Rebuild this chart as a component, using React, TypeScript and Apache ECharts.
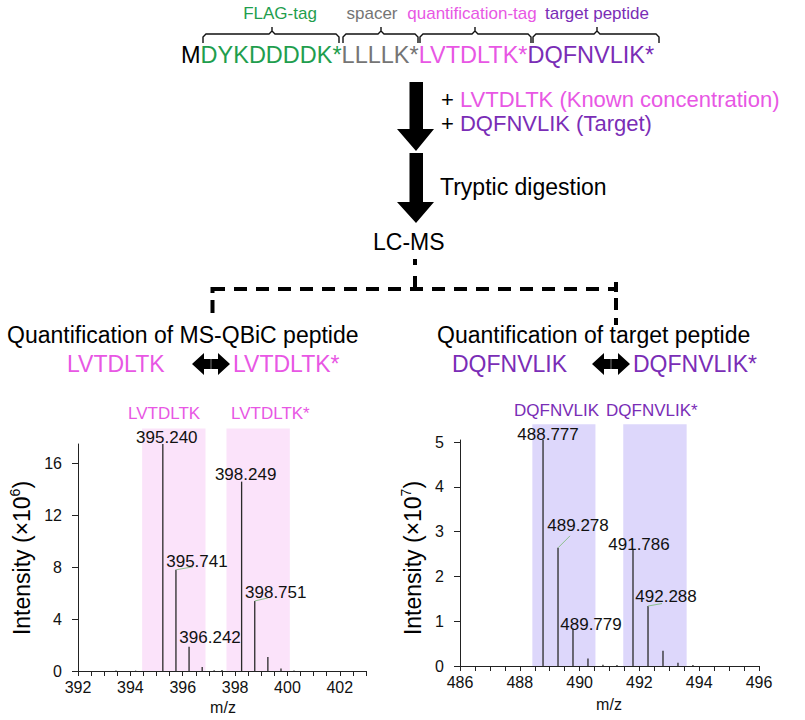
import React, { useEffect, useRef } from "react";
import * as echarts from "echarts";

const FONT = '"Liberation Sans", Arial, Helvetica, sans-serif';

// Colours of the peptide parts
const GREEN = "#1f9e4e";
const GRAY = "#757575";
const PINK = "#e857e4";
const PURPLE = "#7a2db6";

// ---- Left spectrum (MS-QBiC peptide), intensity x10^6 ----
const leftMz = [393.45, 394.2, 395.24, 395.741, 396.242, 396.743, 397.2, 397.5, 398.249, 398.751, 399.252, 399.753, 400.25];
const leftIntensity = [0.03, 0.03, 17.5, 7.8, 1.87, 0.3, 0.05, 0.07, 14.6, 5.4, 1.08, 0.2, 0.03];
const leftLabelled = [395.24, 395.741, 396.242, 398.249, 398.751];
const leftLabelText = ["395.240", "395.741", "396.242", "398.249", "398.751"];
const leftBandStart = [394.45, 397.67];
const leftBandEnd = [396.87, 400.09];
const leftBandTop = [18.7, 18.7];
const leftYTicks = [0, 4, 8, 12, 16];

// ---- Right spectrum (target peptide), intensity x10^7 ----
const rightMz = [488.777, 489.278, 489.779, 490.28, 490.781, 491.25, 491.786, 492.288, 492.789, 493.29, 493.79];
const rightIntensity = [5.05, 2.64, 0.84, 0.17, 0.03, 0.02, 2.59, 1.34, 0.34, 0.07, 0.02];
const rightLabelled = [488.777, 489.278, 489.779, 491.786, 492.288];
const rightLabelText = ["488.777", "489.278", "489.779", "491.786", "492.288"];
const rightBandStart = [488.42, 491.46];
const rightBandEnd = [490.53, 493.58];
const rightBandTop = [5.4, 5.4];
const rightYTicks = [0, 1, 2, 3, 4, 5];

// label placement (pixel offsets from peak top) and leader-line ends
const leftLabelOffsets = [
  [4, -7, 0, 0],
  [21, -8, 17, -3],
  [21, -9, 0, 0],
  [4, -7, 0, 0],
  [21, -8, 13, -3],
];
const rightLabelOffsets = [
  [5, -6, 0, 0],
  [20, -22, 12, -12],
  [18, -4, 0, 0],
  [6, -6, 0, 0],
  [18, -10, 14, -2.5],
];

function txt(x: number, y: number, s: string, size: number, color: string, align = "left") {
  return {
    type: "text",
    x,
    y,
    style: {
      text: s,
      fontSize: size,
      fontFamily: FONT,
      fill: color,
      align,
      verticalAlign: "middle",
      textAlign: align,
      textVerticalAlign: "middle",
    },
  };
}

function tok(color: string, size: number, more: any = {}) {
  return { fill: color, color, fontSize: size, fontFamily: FONT, ...more };
}

function richTxt(x: number, y: number, s: string, rich: any, align = "left", rotation = 0) {
  return {
    type: "text",
    x,
    y,
    rotation,
    style: {
      text: s,
      rich,
      fontFamily: FONT,
      align,
      verticalAlign: "middle",
      textAlign: align,
      textVerticalAlign: "middle",
    },
  };
}

function brace(x1: number, mid: number, x2: number) {
  return {
    type: "polyline",
    shape: {
      points: [
        [x1, 43],
        [x1, 37],
        [x1 + 3, 34],
        [mid - 3, 34],
        [mid, 31],
        [mid, 27],
        [mid, 31],
        [mid + 3, 34],
        [x2 - 3, 34],
        [x2, 37],
        [x2, 43],
      ],
    },
    style: { stroke: "#111", lineWidth: 1.4, fill: null },
  };
}

function downArrow(top: number, headY: number, tip: number) {
  return {
    type: "polygon",
    shape: {
      points: [
        [409.5, top],
        [423, top],
        [423, headY],
        [434, headY],
        [416, tip],
        [397, headY],
        [409.5, headY],
      ],
    },
    style: { fill: "#000" },
  };
}

function doubleArrow(x0: number, x1: number, cy: number) {
  const w = 12;
  return [
    {
      type: "polygon",
      shape: {
        points: [
          [x0, cy],
          [x0 + w, cy - 11],
          [x0 + w, cy - 5],
          [x1 - w, cy - 5],
          [x1 - w, cy - 11],
          [x1, cy],
          [x1 - w, cy + 11],
          [x1 - w, cy + 5],
          [x0 + w, cy + 5],
          [x0 + w, cy + 11],
        ],
      },
      style: { fill: "#000" },
    },
    {
      type: "line",
      shape: { x1: (x0 + x1) / 2, y1: cy - 5, x2: (x0 + x1) / 2, y2: cy + 5 },
      style: { stroke: "#9a9a9a", lineWidth: 0.8 },
    },
  ];
}

function superRich(color: string) {
  return {
    a: tok(color, 23, { lineHeight: 28 }),
    s: tok(color, 14, { lineHeight: 14, verticalAlign: "top" }),
  };
}

function buildGraphic() {
  const g: any[] = [];
  // headers over the construct
  g.push(txt(280, 13, "FLAG-tag", 17, GREEN, "center"));
  g.push(txt(372, 13, "spacer", 17, GRAY, "center"));
  g.push(txt(472, 13, "quantification-tag", 17, PINK, "center"));
  g.push(txt(597, 13, "target peptide", 17, PURPLE, "center"));
  g.push(brace(203, 272, 339));
  g.push(brace(343, 381, 418));
  g.push(brace(420, 475, 531));
  g.push(brace(533, 597, 659));
  g.push(
    richTxt(181, 55, "{k|M}{g|DYKDDDDK*}{s|LLLLK*}{p|LVTDLTK*}{v|DQFNVLIK*}", {
      k: tok("#000", 23.5),
      g: tok(GREEN, 23.5),
      s: tok(GRAY, 23.5),
      p: tok(PINK, 23.5),
      v: tok(PURPLE, 23.5),
    })
  );
  // flow arrows
  g.push(downArrow(82, 129, 151));
  g.push(downArrow(153, 202, 223));
  g.push(richTxt(441, 99.5, "{b|+ }{p|LVTDLTK (Known concentration)}", { b: tok("#000", 22), p: tok(PINK, 22) }));
  g.push(richTxt(441, 123.5, "{b|+ }{p|DQFNVLIK (Target)}", { b: tok("#000", 22), p: tok(PURPLE, 22) }));
  g.push(txt(440, 187, "Tryptic digestion", 23, "#000"));
  g.push(txt(373, 242, "LC-MS", 23, "#000"));
  // dashed connector
  g.push({ type: "rect", shape: { x: 413, y: 259, width: 4, height: 6 }, style: { fill: "#000" } });
  g.push({ type: "rect", shape: { x: 413, y: 276, width: 4, height: 15 }, style: { fill: "#000" } });
  g.push({
    type: "line",
    shape: { x1: 212, y1: 289, x2: 618, y2: 289 },
    style: { stroke: "#000", lineWidth: 4, lineDash: [13, 9] },
  });
  g.push({ type: "rect", shape: { x: 210.5, y: 287, width: 4, height: 6 }, style: { fill: "#000" } });
  g.push({ type: "rect", shape: { x: 210.5, y: 300, width: 4, height: 13 }, style: { fill: "#000" } });
  g.push({ type: "rect", shape: { x: 614, y: 282, width: 4, height: 10 }, style: { fill: "#000" } });
  g.push({ type: "rect", shape: { x: 614, y: 298, width: 4, height: 12 }, style: { fill: "#000" } });
  g.push({ type: "rect", shape: { x: 614, y: 318, width: 4, height: 7 }, style: { fill: "#000" } });
  // sub-headings
  g.push(txt(7, 335, "Quantification of MS-QBiC peptide", 23, "#000"));
  g.push(txt(437, 335, "Quantification of target peptide", 23, "#000"));
  g.push(txt(67, 364, "LVTDLTK", 23, PINK));
  g.push(txt(233, 364, "LVTDLTK*", 23, PINK));
  g.push(txt(452, 364, "DQFNVLIK", 23, PURPLE));
  g.push(txt(633, 364, "DQFNVLIK*", 23, PURPLE));
  doubleArrow(192, 230, 364).forEach((e) => g.push(e));
  doubleArrow(592, 630, 364).forEach((e) => g.push(e));
  // band captions
  g.push(txt(128, 413, "LVTDLTK", 17, PINK));
  g.push(txt(231, 413, "LVTDLTK*", 17, PINK));
  g.push(txt(514, 410, "DQFNVLIK", 17, PURPLE));
  g.push(txt(606, 410, "DQFNVLIK*", 17, PURPLE));
  // axis titles
  g.push(richTxt(22, 558, "{a|Intensity (×10}{s|6}{a|)}", superRich("#000"), "center", Math.PI / 2));
  g.push(richTxt(413, 558, "{a|Intensity (×10}{s|7}{a|)}", superRich("#000"), "center", Math.PI / 2));
  g.push(txt(223, 707, "m/z", 16, "#111", "center"));
  g.push(txt(609, 704, "m/z", 16, "#111", "center"));
  return g;
}

function xAxisCfg(min: number, max: number, grid: number) {
  return {
    type: "value",
    gridIndex: grid,
    min,
    max,
    interval: 0.5,
    axisLine: { show: true, onZero: false, lineStyle: { color: "#222", width: 1 } },
    axisTick: { show: true, length: 5, inside: false, lineStyle: { color: "#222", width: 1 } },
    splitLine: { show: false },
    axisLabel: {
      show: true,
      margin: 8,
      fontSize: 16,
      fontFamily: FONT,
      color: "#111",
      showMinLabel: true,
      showMaxLabel: true,
      formatter: (v: number) => (Math.abs(v - Math.round(v)) < 1e-6 && Math.round(v) % 2 === 0 ? String(Math.round(v)) : ""),
    },
  };
}

function yAxisCfg(max: number, ticks: number[], grid: number) {
  return {
    type: "value",
    gridIndex: grid,
    min: 0,
    max,
    axisLine: { show: true, lineStyle: { color: "#222", width: 1 } },
    axisTick: { show: true, length: 6, customValues: ticks, lineStyle: { color: "#222", width: 1 } },
    splitLine: { show: false },
    axisLabel: { show: true, margin: 16, fontSize: 16, fontFamily: FONT, color: "#111", customValues: ticks },
  };
}

function bandSeries(idx: number, starts: number[], ends: number[], tops: number[], color: string) {
  return {
    type: "custom",
    xAxisIndex: idx,
    yAxisIndex: idx,
    z: 1,
    silent: true,
    clip: false,
    data: starts.map((s, i) => [s, ends[i], tops[i]]),
    encode: { x: [0, 1], y: 2 },
    renderItem: (_p: any, api: any) => {
      const a = api.coord([api.value(0), api.value(2)]);
      const b = api.coord([api.value(1), 0]);
      return { type: "rect", shape: { x: a[0], y: a[1], width: b[0] - a[0], height: b[1] - a[1] }, style: { fill: color } };
    },
  };
}

function peakSeries(idx: number, mz: number[], inten: number[]) {
  return {
    type: "custom",
    xAxisIndex: idx,
    yAxisIndex: idx,
    z: 3,
    silent: true,
    clip: false,
    data: mz.map((m, i) => [m, inten[i]]),
    encode: { x: 0, y: 1 },
    renderItem: (_p: any, api: any) => {
      const p0 = api.coord([api.value(0), 0]);
      const p1 = api.coord([api.value(0), api.value(1)]);
      return { type: "line", shape: { x1: p0[0], y1: p0[1], x2: p1[0], y2: p1[1] }, style: { stroke: "#2a2a2a", lineWidth: 1.3 } };
    },
  };
}

function labelSeries(idx: number, mz: number[], inten: number[], labelled: number[], texts: string[], offs: number[][]) {
  const data = labelled.map((m, i) => {
    const j = mz.findIndex((v) => Math.abs(v - m) < 1e-6);
    return [m, inten[j], i];
  });
  return {
    type: "custom",
    xAxisIndex: idx,
    yAxisIndex: idx,
    z: 5,
    silent: true,
    clip: false,
    data,
    encode: { x: 0, y: 1 },
    renderItem: (_p: any, api: any) => {
      const i = api.value(2);
      const p = api.coord([api.value(0), api.value(1)]);
      const o = offs[i];
      const children: any[] = [];
      if (o[2] !== 0 || o[3] !== 0) {
        children.push({
          type: "line",
          shape: { x1: p[0], y1: p[1], x2: p[0] + o[2], y2: p[1] + o[3] },
          style: { stroke: "#8cbf8c", lineWidth: 1 },
        });
      }
      children.push({
        type: "text",
        x: p[0] + o[0],
        y: p[1] + o[1],
        style: {
          text: texts[i],
          fontSize: 17,
          fontFamily: FONT,
          fill: "#111",
          align: "center",
          verticalAlign: "middle",
          textAlign: "center",
          textVerticalAlign: "middle",
        },
      });
      return { type: "group", children };
    },
  };
}

export default function App() {
  const ref = useRef<HTMLDivElement>(null);
  useEffect(() => {
    if (!ref.current) return;
    const chart = echarts.init(ref.current, null, { renderer: "svg" });
    chart.setOption({
      animation: false,
      backgroundColor: "#fff",
      grid: [
        { left: 78, top: 444, right: 805 - 366, bottom: 720 - 671, containLabel: false, outerBoundsMode: "none" },
        { left: 460, top: 440, right: 805 - 759, bottom: 720 - 666, containLabel: false, outerBoundsMode: "none" },
      ],
      xAxis: [xAxisCfg(392, 403, 0), xAxisCfg(486, 496, 1)],
      yAxis: [yAxisCfg(17.5, leftYTicks, 0), yAxisCfg(5.05, rightYTicks, 1)],
      series: [
        bandSeries(0, leftBandStart, leftBandEnd, leftBandTop, "#fbe3fa"),
        bandSeries(1, rightBandStart, rightBandEnd, rightBandTop, "#ddd7fb"),
        peakSeries(0, leftMz, leftIntensity),
        peakSeries(1, rightMz, rightIntensity),
        labelSeries(0, leftMz, leftIntensity, leftLabelled, leftLabelText, leftLabelOffsets),
        labelSeries(1, rightMz, rightIntensity, rightLabelled, rightLabelText, rightLabelOffsets),
      ],
      graphic: { elements: buildGraphic() },
    });
    return () => chart.dispose();
  }, []);
  return <div ref={ref} style={{ position: "absolute", left: 0, top: 0, width: 805, height: 720 }} />;
}
